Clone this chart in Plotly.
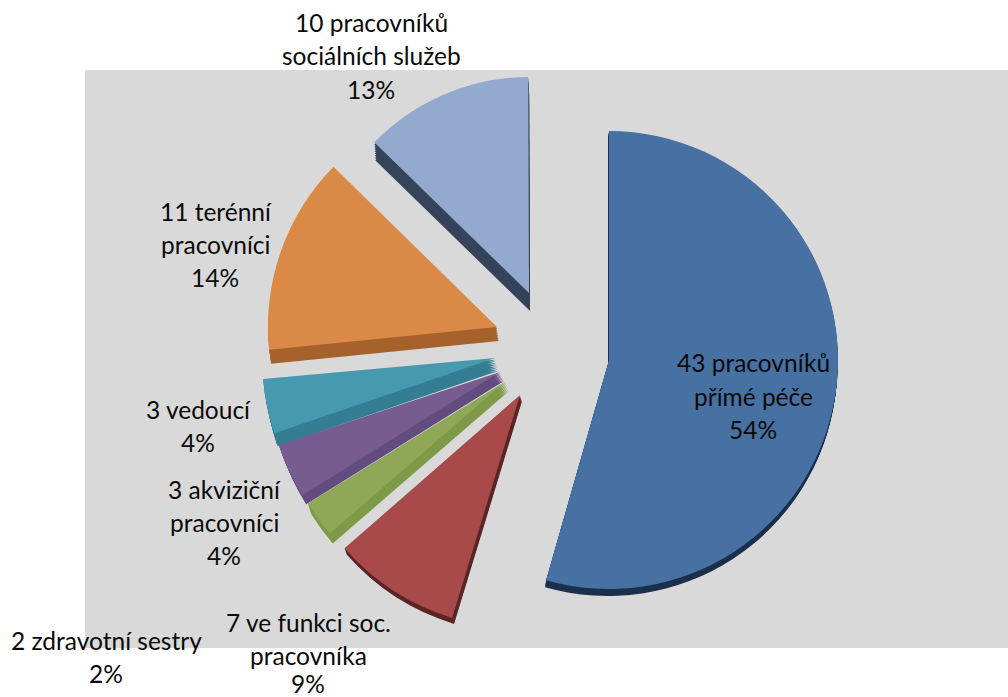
import plotly.graph_objects as go

# Staff counts per role, clockwise from twelve o'clock
roles = ["pracovníci přímé péče", "ve funkci soc. pracovníka", "zdravotní sestry",
         "akviziční pracovníci", "vedoucí", "terénní pracovníci", "pracovníci sociálních služeb"]
counts = [43, 7, 2, 3, 3, 11, 10]
face_colors = ["#4770A3", "#A84A4A", "#8FA858", "#775C90", "#4799B0", "#DB8946", "#94A9CE"]
side_colors = ["#1C304E", "#5C2626", "#7E9A48", "#634C80", "#347E94", "#A5632C", "#35445A"]

# Exploded-slice geometry in page pixels: apex x, apex y, radius, rotation
apex_x = [609, 520, 506, 500, 495, 497, 529]
apex_y = [360, 395, 381, 372, 358, 327, 293]
radii = [229, 233, 233, 233, 233, 229, 216]
turns = [0, 1, 1.3, 1.1, 0.5, 0, -0.2]

# Full extrusion of each slice's side; drawn back to front
side_dx = [-1, 2, 3, 4, 3, 2, 1]
side_dy = [7, 6, 10, 9, 13, 14, 18]
draw_order = [6, 5, 4, 3, 2, 1, 0]
SIDE_STEPS = 8

# Each caption line: text, centre x, centre y (pixels on the page)
captions = [
    ("43 pracovníků", 753, 363), ("přímé péče", 753, 396), ("54%", 753, 429),
    ("7 ve funkci soc.", 308, 622), ("pracovníka", 308, 655), ("9%", 308, 683),
    ("2 zdravotní sestry", 106, 640), ("2%", 106, 673),
    ("3 akviziční", 224, 489), ("pracovníci", 224, 522), ("4%", 224, 555),
    ("3 vedoucí", 198, 409), ("4%", 198, 442),
    ("11 terénní", 216, 211), ("pracovníci", 215, 244), ("14%", 215, 277),
    ("10 pracovníků", 371, 23), ("sociálních služeb", 371, 56), ("13%", 371, 89),
]

W, H = 1008, 697
CLEAR = "rgba(0,0,0,0)"


def slice_trace(i, color, dx, dy):
    # One full pie in which only slice i is visible, so it can sit on its own centre
    cx, cy, r = apex_x[i] + dx, apex_y[i] + dy, radii[i]
    colors = [color if k == i else CLEAR for k in range(len(counts))]
    return go.Pie(
        labels=roles, values=counts, sort=False, direction="clockwise", rotation=turns[i],
        marker=dict(colors=colors, line=dict(width=0)),
        textinfo="none", hoverinfo="skip", showlegend=False,
        domain=dict(x=[(cx - r) / W, (cx + r) / W],
                    y=[1 - (cy + r) / H, 1 - (cy - r) / H]),
    )


traces = []
for i in draw_order:
    # Stacked copies sweep the side of the slice from its full depth up to the face
    for step in range(SIDE_STEPS, 0, -1):
        f = step / SIDE_STEPS
        traces.append(slice_trace(i, side_colors[i], side_dx[i] * f, side_dy[i] * f))
    traces.append(slice_trace(i, face_colors[i], 0, 0))

fig = go.Figure(traces)

fig.update_layout(
    width=W, height=H, margin=dict(l=0, r=0, t=0, b=0),
    paper_bgcolor="white", showlegend=False,
    shapes=[dict(type="rect", xref="paper", yref="paper", layer="below",
                 x0=85 / W, x1=1, y0=1 - 648 / H, y1=1 - 70 / H,
                 fillcolor="#D9D9D9", line=dict(width=0))],
    annotations=[dict(text=t, x=x / W, y=1 - y / H, xref="paper", yref="paper",
                      xanchor="center", yanchor="middle", showarrow=False,
                      font=dict(family="Lato", size=24.5, color="#0A0A0A"))
                 for t, x, y in captions],
)

fig.write_html("out.html")
